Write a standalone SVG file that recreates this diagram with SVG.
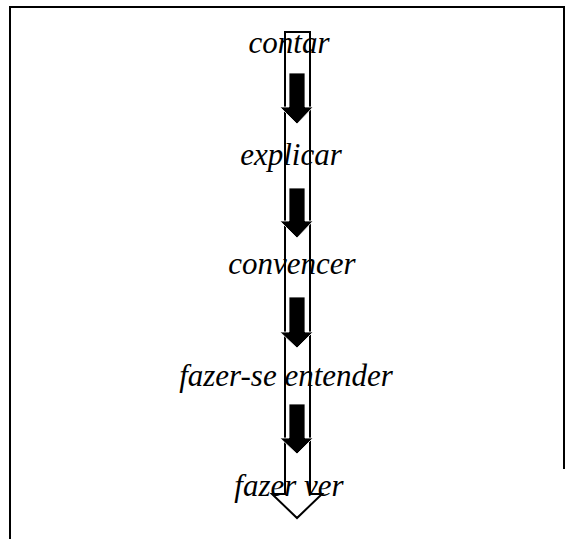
<svg xmlns="http://www.w3.org/2000/svg" width="565" height="539" viewBox="0 0 565 539">
<style>
.frame{fill:none;stroke:#000;stroke-width:2}
.big{fill:none;stroke:#000;stroke-width:2}
.small{fill:#000;stroke:#fff;stroke-width:0.8}
.lbl{font-family:"Liberation Serif","Times New Roman",serif;font-style:italic;font-size:31px;text-anchor:middle;fill:#000}
</style>
<rect width="565" height="539" fill="#fff"/>
<g id="frame">
<path class="frame" d="M10,539 V7 H565"/>
<path class="frame" d="M564,7 V469"/>
</g>
<g id="connectors">
<path class="big" d="M285,32 H310 V494 H322 L297,518 L272,494 H285 Z"/>
<polygon class="small" points="289,73 305,73 305,107 313,107 297,124 280,107 289,107"/>
<polygon class="small" points="289,188 305,188 305,221 313,221 297,238 280,221 289,221"/>
<polygon class="small" points="289,297 305,297 305,332 313,332 297,348 280,332 289,332"/>
<polygon class="small" points="289,404 305,404 305,438 313,438 297,454 280,438 289,438"/>
</g>
<g id="contar"><text class="lbl" x="289" y="53">contar</text></g>
<g id="explicar"><text class="lbl" x="291" y="165">explicar</text></g>
<g id="convencer"><text class="lbl" x="292" y="274">convencer</text></g>
<g id="fazer-se-entender"><text class="lbl" x="286" y="386">fazer-se entender</text></g>
<g id="fazer-ver"><text class="lbl" x="289" y="496">fazer ver</text></g>
</svg>
